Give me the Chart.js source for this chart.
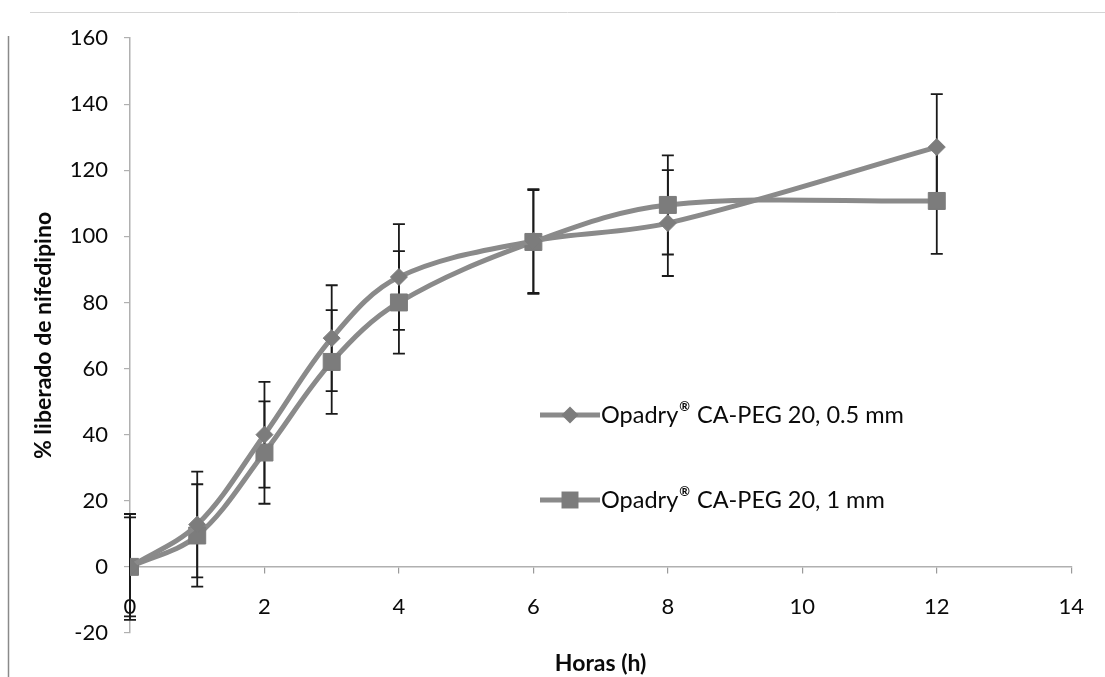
<!DOCTYPE html>
<html>
<head>
<meta charset="utf-8">
<script src="https://cdn.jsdelivr.net/npm/chart.js@4/dist/chart.umd.min.js"></script>
<style>
  html, body { margin: 0; padding: 0; background: #ffffff; }
  #wrap { width: 1105px; height: 677px; position: relative; }
</style>
</head>
<body>
<div id="wrap"><canvas id="release"></canvas></div>
<script>
// Sampling times (h)
const hours = [0, 1, 2, 3, 4, 6, 8, 12];

// Mean % nifedipine released, per coating thickness
const release05mm = [0, 12.8, 40, 69.2, 87.7, 98.6, 104, 127];
const release1mm  = [0, 9.5, 34.6, 62, 80, 98.3, 109.5, 110.7];

// Standard deviations (error bars)
const sd05mm = [16, 16, 16, 16, 16, 15.7, 16, 16];
const sd1mm  = [15, 15.5, 15.5, 15.7, 15.5, 15.7, 15, 16];

const seriesLabels = ['Opadry® CA-PEG 20, 0.5 mm', 'Opadry® CA-PEG 20, 1 mm'];
const xTitle = 'Horas (h)';
const yTitle = '% liberado de nifedipino';

// Axis ranges
const xMin = 0, xMax = 14, xStep = 2;
const yMin = -20, yMax = 160, yStep = 20;

const toPoints = (xs, ys) => xs.map((x, i) => ({ x: x, y: ys[i] }));
const errorSets = [sd05mm, sd1mm];

const FONT = 'Lato, "Open Sans", sans-serif';
const LINE_GREY = '#8a8a8a';
const MARK_GREY = '#7c7c7c';

// Vertical error bars with caps, drawn beneath the lines
const errorBars = {
  id: 'errorBars',
  beforeDatasetsDraw(chart) {
    const { ctx, scales: { x, y } } = chart;
    ctx.save();
    ctx.strokeStyle = '#1a1a1a';
    ctx.lineWidth = 1.8;
    chart.data.datasets.forEach((ds, di) => {
      const errs = errorSets[di];
      ds.data.forEach((p, i) => {
        const px = x.getPixelForValue(p.x);
        const top = y.getPixelForValue(p.y + errs[i]);
        const bot = y.getPixelForValue(p.y - errs[i]);
        ctx.beginPath();
        ctx.moveTo(px, top); ctx.lineTo(px, bot);
        ctx.moveTo(px - 6, top); ctx.lineTo(px + 6, top);
        ctx.moveTo(px - 6, bot); ctx.lineTo(px + 6, bot);
        ctx.stroke();
      });
    });
    ctx.restore();
  }
};

function drawMarker(ctx, style, cx, cy, r) {
  ctx.beginPath();
  if (style === 'rectRot') {
    ctx.moveTo(cx - r, cy); ctx.lineTo(cx, cy - r);
    ctx.lineTo(cx + r, cy); ctx.lineTo(cx, cy + r);
    ctx.closePath();
  } else {
    const s = r * Math.SQRT1_2;
    ctx.rect(cx - s, cy - s, 2 * s, 2 * s);
  }
  ctx.fill();
}

// Legend placed inside the plot, with a superscript ® in the labels
const inlineLegend = {
  id: 'inlineLegend',
  afterDraw(chart) {
    const { ctx } = chart;
    const x0 = 540, x1 = 600, rows = [415, 500];
    chart.data.datasets.forEach((ds, i) => {
      const yy = rows[i];
      ctx.save();
      ctx.strokeStyle = ds.borderColor;
      ctx.lineWidth = ds.borderWidth;
      ctx.beginPath(); ctx.moveTo(x0, yy); ctx.lineTo(x1, yy); ctx.stroke();
      ctx.fillStyle = ds.pointBackgroundColor;
      drawMarker(ctx, ds.pointStyle, (x0 + x1) / 2, yy, ds.pointRadius);

      const parts = ds.label.split('®');
      ctx.fillStyle = '#0a0a0a';
      ctx.textBaseline = 'middle';
      ctx.textAlign = 'left';
      let tx = x1 + 1;
      ctx.font = '23.5px ' + FONT;
      ctx.fillText(parts[0], tx, yy);
      tx += ctx.measureText(parts[0]).width + 1;
      if (parts.length > 1) {
        ctx.font = 'bold 13px ' + FONT;
        ctx.fillText('®', tx, yy - 8);
        tx += ctx.measureText('®').width + 1;
        ctx.font = '23.5px ' + FONT;
        ctx.fillText(parts[1], tx, yy);
      }
      ctx.restore();
    });
  }
};

// Outer chart frame edges
const frame = {
  id: 'frame',
  beforeDraw(chart) {
    const { ctx } = chart;
    ctx.save();
    ctx.strokeStyle = '#8a8a8a';
    ctx.lineWidth = 1.5;
    ctx.beginPath(); ctx.moveTo(8.5, 36); ctx.lineTo(8.5, 677); ctx.stroke();
    ctx.strokeStyle = '#d4d4d4';
    ctx.lineWidth = 1;
    ctx.beginPath(); ctx.moveTo(30, 12.5); ctx.lineTo(1105, 12.5); ctx.stroke();
    ctx.restore();
  }
};

new Chart(document.getElementById('release'), {
  type: 'line',
  data: {
    datasets: [
      {
        label: seriesLabels[0],
        data: toPoints(hours, release05mm),
        borderColor: LINE_GREY,
        borderWidth: 5,
        pointStyle: 'rectRot',
        pointRadius: 8.5,
        pointBackgroundColor: MARK_GREY,
        pointBorderColor: MARK_GREY,
        pointBorderWidth: 1,
        tension: 0.35,
        fill: false
      },
      {
        label: seriesLabels[1],
        data: toPoints(hours, release1mm),
        borderColor: LINE_GREY,
        borderWidth: 5,
        pointStyle: 'rect',
        pointRadius: 12,
        pointBackgroundColor: MARK_GREY,
        pointBorderColor: MARK_GREY,
        pointBorderWidth: 1,
        tension: 0.35,
        fill: false
      }
    ]
  },
  options: {
    responsive: true,
    maintainAspectRatio: false,
    animation: false,
    layout: { padding: { top: 38, right: 32, bottom: 44, left: 12 } },
    plugins: {
      legend: { display: false },
      tooltip: { enabled: false }
    },
    scales: {
      x: {
        type: 'linear',
        position: { y: 0 },
        min: xMin, max: xMax,
        ticks: {
          stepSize: xStep,
          padding: 21,
          color: '#0a0a0a',
          font: { family: FONT, size: 22 }
        },
        grid: { drawOnChartArea: false, tickLength: 6, color: '#9a9a9a', lineWidth: 1.2 },
        border: { display: true, color: '#b0b0b0', width: 1.5 },
        title: {
          display: true,
          text: xTitle,
          color: '#0a0a0a',
          padding: { top: 8, bottom: 0 },
          font: { family: FONT, size: 23, weight: 'bold' }
        }
      },
      y: {
        type: 'linear',
        position: 'left',
        min: yMin, max: yMax,
        afterFit(scale) { scale.width = 118; },
        ticks: {
          stepSize: yStep,
          padding: 16,
          color: '#0a0a0a',
          font: { family: FONT, size: 22 }
        },
        grid: { drawOnChartArea: false, tickLength: 6, color: '#b0b0b0', lineWidth: 1.2 },
        border: { display: true, color: '#b0b0b0', width: 1.5 },
        title: {
          display: true,
          text: yTitle,
          color: '#0a0a0a',
          padding: { top: 18, bottom: 0 },
          font: { family: FONT, size: 23, weight: 'bold' }
        }
      }
    }
  },
  plugins: [frame, errorBars, inlineLegend]
});
</script>
</body>
</html>
